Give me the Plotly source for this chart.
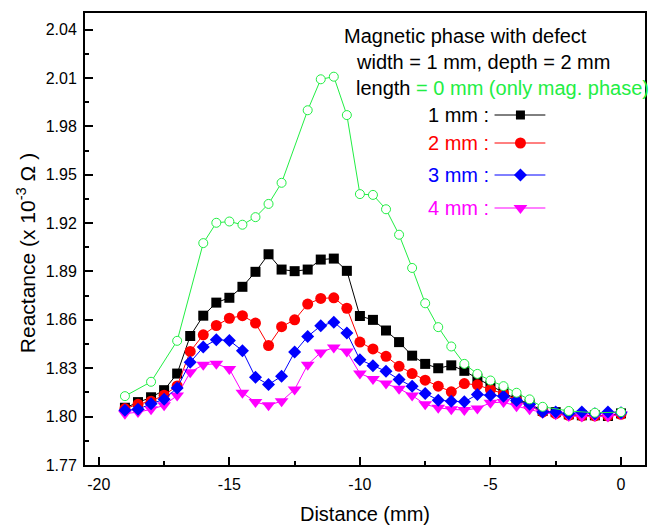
import plotly.graph_objects as go

# ---------------- data ----------------
x_defect = [-19, -18.5, -18, -17.5, -17, -16.5, -16, -15.5, -15, -14.5, -14, -13.5, -13,
            -12.5, -12, -11.5, -11, -10.5, -10, -9.5, -9, -8.5, -8, -7.5, -7, -6.5, -6,
            -5.5, -5, -4.5, -4, -3.5, -3, -2.5, -2, -1.5, -1, -0.5, 0]

y_1mm = [1.8055, 1.809, 1.812, 1.8164, 1.8267, 1.850, 1.8626, 1.8707, 1.8737, 1.8805,
         1.8898, 1.9007, 1.8912, 1.8902, 1.8912, 1.8974, 1.898, 1.8904, 1.8624, 1.860,
         1.8534, 1.8462, 1.8378, 1.8327, 1.830, 1.8318, 1.8284, 1.8236, 1.8193, 1.8154,
         1.8107, 1.808, 1.8035, 1.8028, 1.8014, 1.8008, 1.8008, 1.8004, 1.802]

y_2mm = [1.805, 1.8076, 1.8096, 1.8133, 1.819, 1.8404, 1.8507, 1.8565, 1.861, 1.8626,
         1.858, 1.8441, 1.8558, 1.860, 1.8698, 1.8733, 1.8737, 1.8672, 1.8462, 1.842,
         1.8374, 1.8312, 1.8267, 1.8226, 1.8189, 1.8154, 1.8205, 1.8197, 1.8168, 1.8142,
         1.8102, 1.8065, 1.8028, 1.8018, 1.8008, 1.8004, 1.8004, 1.8004, 1.8014]

y_3mm = [1.8039, 1.8045, 1.808, 1.8107, 1.8178, 1.8337, 1.8431, 1.8477, 1.8472, 1.8409,
         1.8244, 1.8199, 1.825, 1.840, 1.8497, 1.8563, 1.8586, 1.8518, 1.8353, 1.8316,
         1.8281, 1.823, 1.8189, 1.8144, 1.8102, 1.8096, 1.8092, 1.8137, 1.8133, 1.8127,
         1.810, 1.8076, 1.8028, 1.8028, 1.8018, 1.8028, 1.8018, 1.8028, 1.8024]

y_4mm = [1.8018, 1.8028, 1.8045, 1.807, 1.8131, 1.8275, 1.8322, 1.8328, 1.8296, 1.8148,
         1.809, 1.807, 1.8096, 1.8168, 1.8322, 1.8398, 1.8429, 1.8404, 1.8267, 1.8234,
         1.8205, 1.8173, 1.8131, 1.8076, 1.8055, 1.8045, 1.8041, 1.8051, 1.8086, 1.809,
         1.8065, 1.8045, 1.8024, 1.8014, 1.8004, 1.800, 1.8004, 1.800, 1.8014]

x_phase = [-19, -18, -17, -16, -15.5, -15, -14.5, -14, -13.5, -13, -12, -11.5, -11, -10.5,
           -10, -9.5, -9, -8.5, -8, -7.5, -7, -6.5, -6, -5.5, -5, -4.5, -4, -3.5, -3,
           -2, -1, 0]
y_phase = [1.8127, 1.8216, 1.847, 1.9076, 1.9202, 1.921, 1.919, 1.9237, 1.9319, 1.945,
           1.990, 2.0092, 2.0108, 1.987, 1.938, 1.9375, 1.9286, 1.9128, 1.8922, 1.8703,
           1.8555, 1.8435, 1.8327, 1.8265, 1.8224, 1.8189, 1.8148, 1.8107, 1.8061,
           1.8035, 1.8024, 1.8028]

labels = ["1 mm :", "2 mm :", "3 mm :", "4 mm :"]
x_ticks = [-20, -15, -10, -5, 0]
y_ticks = [1.77, 1.80, 1.83, 1.86, 1.89, 1.92, 1.95, 1.98, 2.01, 2.04]

# ---------------- styles ----------------
FONT = "Liberation Sans, Arial, sans-serif"
GREEN = "#22EE44"
series = [
    # (y, label, color, symbol, size)
    (y_1mm, labels[0], "#000000", "square", 10),
    (y_2mm, labels[1], "#FF0000", "circle", 11),
    (y_4mm, labels[3], "#FF00FF", "triangle-down", 12),
    (y_3mm, labels[2], "#0000FF", "diamond", 10),
]

W, H = 650, 529
ML, MR, MT, MB = 85, 3, 13, 64
PW, PH = W - ML - MR, H - MT - MB

def px_x(px):
    return (px - ML) / PW

def px_y(py):
    return (H - MB - py) / PH

fig = go.Figure()

for y, name, color, sym, size in series:
    fig.add_trace(go.Scatter(
        x=x_defect, y=y, mode="lines+markers", name=name,
        line=dict(color=color, width=1),
        marker=dict(symbol=sym, size=size, color=color, line=dict(width=0)),
        showlegend=False))

fig.add_trace(go.Scatter(
    x=x_phase, y=y_phase, mode="lines+markers", name="0 mm",
    line=dict(color=GREEN, width=1),
    marker=dict(symbol="circle", size=9, color="white", line=dict(width=1, color=GREEN)),
    showlegend=False))

# ---------------- custom legend (text left, symbol right) ----------------
legend_rows = [  # label index, color, symbol, size, y pixel
    (0, "#000000", "square", 9, 115),
    (1, "#FF0000", "circle", 11, 143),
    (2, "#0000FF", "diamond", 10, 175),
    (3, "#FF00FF", "triangle-down", 12, 208),
]
annotations = []
for idx, color, sym, size, py in legend_rows:
    fig.add_trace(go.Scatter(
        x=[px_x(496), px_x(547)], y=[px_y(py), px_y(py)], mode="lines",
        line=dict(color=color, width=1), xaxis="x2", yaxis="y2",
        showlegend=False, hoverinfo="skip"))
    fig.add_trace(go.Scatter(
        x=[px_x(522)], y=[px_y(py)], mode="markers",
        marker=dict(symbol=sym, size=size, color=color, line=dict(width=0)),
        xaxis="x2", yaxis="y2", showlegend=False, hoverinfo="skip"))
    annotations.append(dict(
        text=labels[idx], x=px_x(492), y=px_y(py), xref="paper", yref="paper",
        xanchor="right", yanchor="middle", showarrow=False,
        font=dict(family=FONT, size=20, color=color)))

header = [
    ("Magnetic phase with defect", 343, 36),
    ("width = 1 mm, depth = 2 mm", 355, 62),
    ("length<span style='color:%s'> = 0 mm (only mag. phase)</span>" % GREEN, 355, 88),
]
for txt, px, py in header:
    annotations.append(dict(
        text=txt, x=px_x(px), y=px_y(py), xref="paper", yref="paper",
        xanchor="left", yanchor="middle", showarrow=False,
        font=dict(family=FONT, size=20, color="#000000")))

# y-axis title
annotations.append(dict(
    text="Reactance (x 10<sup>-3</sup> \u03a9 )", x=px_x(26), y=px_y(253),
    xref="paper", yref="paper", xanchor="center", yanchor="middle",
    textangle=-90, showarrow=False, font=dict(family=FONT, size=21, color="#000000")))

axis_common = dict(
    showgrid=False, zeroline=False, showline=True, linecolor="#000000", linewidth=2,
    mirror=True, ticks="inside", ticklen=8, tickwidth=2, tickcolor="#000000",
    tickfont=dict(family=FONT, size=16, color="#000000"),
)

fig.update_layout(
    width=W, height=H,
    margin=dict(l=ML, r=MR, t=MT, b=MB),
    paper_bgcolor="white", plot_bgcolor="white",
    xaxis=dict(range=[-20.53, 0.92], tickvals=x_ticks, ticktext=[str(v) for v in x_ticks],
               minor=dict(ticks="inside", ticklen=4, tickwidth=2, dtick=2.5, tick0=0,
                          tickcolor="#000000"),
               title=dict(text="Distance (mm)", font=dict(family=FONT, size=20, color="#000000"),
                          standoff=15),
               ticklabelstandoff=4,
               **axis_common),
    yaxis=dict(range=[1.77, 2.0503], tickvals=y_ticks, ticktext=["%.2f" % v for v in y_ticks],
               minor=dict(ticks="inside", ticklen=4, tickwidth=2, dtick=0.015, tick0=1.77,
                          tickcolor="#000000"),
               ticklabelstandoff=3,
               **axis_common),
    xaxis2=dict(overlaying="x", range=[0, 1], visible=False, anchor="y2", fixedrange=True),
    yaxis2=dict(overlaying="y", range=[0, 1], visible=False, anchor="x2", fixedrange=True),
    annotations=annotations,
    showlegend=False,
)

fig.write_html("out.html", config={"displayModeBar": False},
               post_script="document.body.style.margin='0px';")
